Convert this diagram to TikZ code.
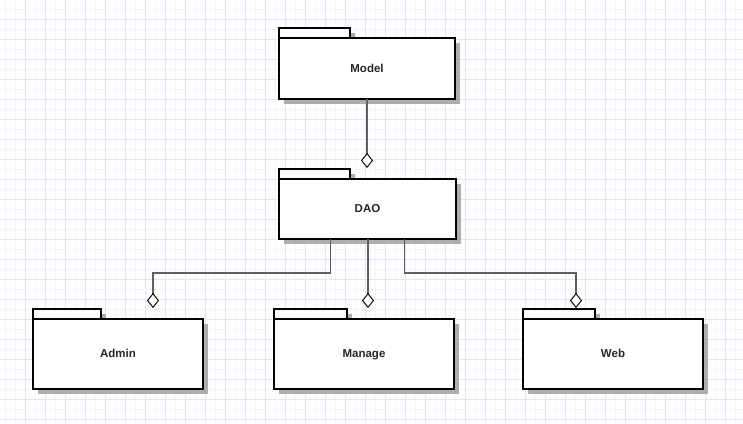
\documentclass[tikz,border=0pt]{standalone}
\usepackage{fontspec}
\setmainfont{Liberation Sans}
\usetikzlibrary{arrows.meta, shadows, positioning}

\definecolor{gridminor}{RGB}{244,243,252}
\definecolor{gridmajor}{RGB}{230,227,248}
\definecolor{linkgray}{RGB}{95,95,95}

\begin{document}
\begin{tikzpicture}[x=1pt, y=-1pt,
    box/.style={draw, line width=2pt, fill=white, outer sep=0pt, inner sep=0pt,
        drop shadow={shadow xshift=5pt, shadow yshift=-5pt, fill=black!32, opacity=1}},
    package/.style={box, minimum height=61pt, text height=8.5pt, text depth=1.5pt,
        font=\bfseries\fontsize{11.5}{13}\selectfont, text=black!85},
    tab/.style={box, minimum width=71pt, minimum height=10pt},
    link/.style={draw=linkgray, line width=1.2pt,
        -{Diamond[length=15pt, width=12pt, fill=white, color=black, line width=0.9pt]}}]
    \useasboundingbox (0,0) rectangle (743,423);
    \fill[white] (0,0) rectangle (743,423);
    \foreach \x in {5,15,...,735} \draw[gridminor, line width=1pt] (\x,0) -- (\x,423);
    \foreach \y in {9,19,...,419} \draw[gridminor, line width=1pt] (0,\y) -- (743,\y);
    \foreach \x in {25,45,...,725} \draw[gridmajor, line width=1pt] (\x,0) -- (\x,423);
    \foreach \y in {19,39,...,419} \draw[gridmajor, line width=1pt] (0,\y) -- (743,\y);

    \node[tab, anchor=south west] (modeltab) at (279,38) {};
    \node[package, minimum width=176pt, anchor=north west] (model) at (modeltab.south west) {Model};

    \node[tab, anchor=south west] (daotab) at (279,179) {};
    \node[package, minimum width=177pt, minimum height=60pt, anchor=north west] (dao) at (daotab.south west) {DAO};

    \node[tab, minimum width=68pt, anchor=south west] (admintab) at (33,319) {};
    \node[package, minimum width=170pt, minimum height=70pt, anchor=north west] (admin) at (admintab.south west) {Admin};

    \node[tab, minimum width=73pt, anchor=south west] (managetab) at (274,319) {};
    \node[package, minimum width=180pt, minimum height=70pt, anchor=north west] (manage) at (managetab.south west) {Manage};

    \node[tab, minimum width=72pt, anchor=south west] (webtab) at (523,319) {};
    \node[package, minimum width=180pt, minimum height=70pt, anchor=north west] (web) at (webtab.south west) {Web};

    \coordinate (daoin) at (367,168);
    \coordinate (adminin) at (153,308);
    \coordinate (managein) at (368,308);
    \coordinate (webin) at (576,308);

    \draw[link] (model.south -| daoin) -- (daoin);
    \draw[link] ([xshift=-37pt]dao.south) -- ++(0,34) -| (adminin);
    \draw[link] (dao.south -| managein) -- (managein);
    \draw[link] ([xshift=37pt]dao.south) -- ++(0,34) -| (webin);
\end{tikzpicture}
\end{document}
